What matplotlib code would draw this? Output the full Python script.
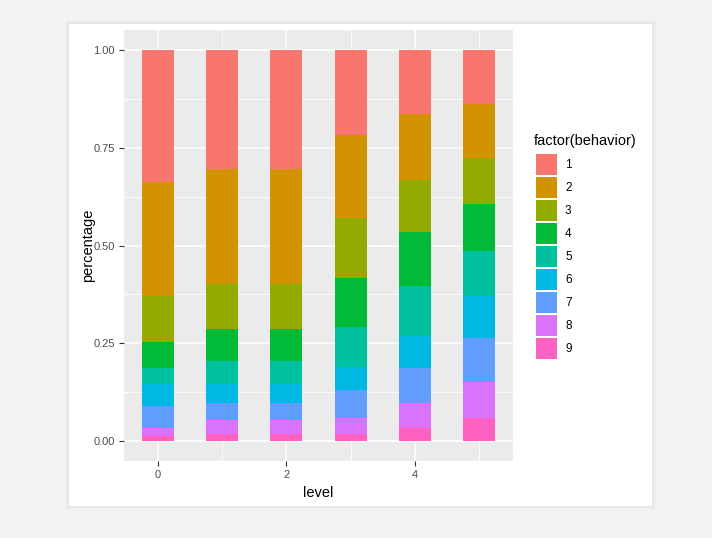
import numpy as np
import matplotlib
matplotlib.use("Agg")
from matplotlib import pyplot as plt
from matplotlib.patches import Rectangle

plt.rcParams['font.family'] = ['Liberation Sans', 'DejaVu Sans']

# 数据：各 level 下 9 种 behavior 的占比
levels = [0, 1, 2, 3, 4, 5]
behaviors = ['1', '2', '3', '4', '5', '6', '7', '8', '9']
b1 = [0.337, 0.306, 0.306, 0.219, 0.165, 0.138]
b2 = [0.292, 0.293, 0.293, 0.211, 0.168, 0.138]
b3 = [0.116, 0.115, 0.115, 0.152, 0.133, 0.117]
b4 = [0.066, 0.082, 0.082, 0.127, 0.138, 0.122]
b5 = [0.041, 0.058, 0.058, 0.102, 0.126, 0.114]
b6 = [0.058, 0.049, 0.049, 0.058, 0.083, 0.106]
b7 = [0.056, 0.043, 0.043, 0.071, 0.090, 0.114]
b8 = [0.020, 0.034, 0.034, 0.040, 0.063, 0.090]
b9 = [0.0136, 0.020, 0.020, 0.020, 0.034, 0.061]
series = [b1, b2, b3, b4, b5, b6, b7, b8, b9]

colors = ['#F8766D', '#D39200', '#93AA00', '#00BA38', '#00C19F',
          '#00B9E3', '#619CFF', '#DB72FB', '#FF61C3']

W, H = 712, 538
fig = plt.figure(figsize=(W / 100, H / 100), dpi=100)
fig.patch.set_facecolor('#f3f3f3')

# 白色卡片背景（带一点阴影）
for k, a in [(4, 0.02), (2, 0.03)]:
    fig.patches.append(Rectangle(((69 - k) / W, 1 - (506 + k) / H), (583 + 2 * k) / W,
                                 (482 + 2 * k) / H, transform=fig.transFigure,
                                 facecolor='black', alpha=a, edgecolor='none', zorder=-3))
fig.patches.append(Rectangle((69 / W, 1 - 506 / H), 583 / W, 482 / H,
                             transform=fig.transFigure, facecolor='white',
                             edgecolor='none', zorder=-2))

def px_axes(l, t, r, b):
    return [l / W, 1 - b / H, (r - l) / W, (b - t) / H]

ax = fig.add_axes(px_axes(124, 30, 513, 461))
ax.set_zorder(1)
ax.set_facecolor('#EBEBEB')

# 堆叠柱：behavior 1 在最上面
x = np.array(levels)
bottom = np.zeros(len(levels))
for i in range(len(series) - 1, -1, -1):
    vals = np.array(series[i])
    ax.bar(x, vals, width=0.5, bottom=bottom, color=colors[i], zorder=3, linewidth=0)
    bottom = bottom + vals

ax.set_xlim(-0.525, 5.525)
ax.set_ylim(-0.05, 1.05)
ax.set_xticks([0, 2, 4])
ax.set_xticklabels(['0', '2', '4'])
ax.set_xticks([1, 3, 5], minor=True)
ax.set_yticks([0, 0.25, 0.5, 0.75, 1.0])
ax.set_yticklabels(['0.00', '0.25', '0.50', '0.75', '1.00'])
ax.set_yticks([0.125, 0.375, 0.625, 0.875], minor=True)
ax.grid(which='major', color='white', linewidth=1.1, zorder=1)
ax.grid(which='minor', color='white', linewidth=0.55, zorder=1)
ax.set_axisbelow(True)
for s in ax.spines.values():
    s.set_visible(False)
ax.tick_params(which='major', length=3.5, width=0.8, color='#333333',
               labelcolor='#4D4D4D', labelsize=8, pad=3)
ax.tick_params(which='minor', length=0)

ax.set_xlabel('level', fontsize=10.5, color='black', labelpad=4)
ax.set_ylabel('percentage', fontsize=10.5, color='black', labelpad=-1)

# 图例
fig.text(534 / W, 1 - 141 / H, 'factor(behavior)', fontsize=10.5,
         ha='left', va='center', color='black')
for i, lab in enumerate(behaviors):
    top = 154 + i * 23
    fig.patches.append(Rectangle((536 / W, 1 - (top + 21) / H), 21 / W, 21 / H,
                                 transform=fig.transFigure, facecolor=colors[i],
                                 edgecolor='none'))
    fig.text(565 / W, 1 - (top + 11) / H, lab, fontsize=8.5,
             ha='left', va='center', color='black')

fig.savefig('out.png', dpi=100, facecolor=fig.get_facecolor())
